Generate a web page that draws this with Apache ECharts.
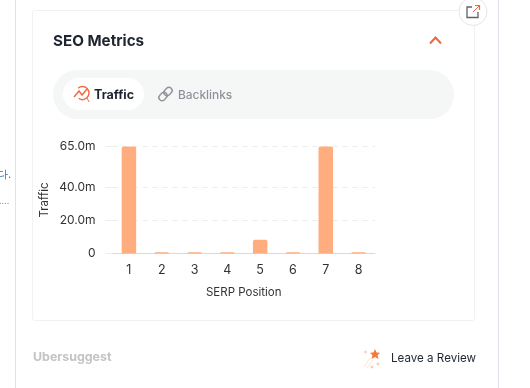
<!DOCTYPE html>
<html><head><meta charset="utf-8">
<style>html,body{margin:0;padding:0;background:#fff}#c{width:530px;height:388px}</style>
<script src="https://cdn.jsdelivr.net/npm/echarts@6/dist/echarts.min.js"></script>
</head><body><div id="c"></div>
<script>
const categories = ['1','2','3','4','5','6','7','8'];
const traffic = [65, 0.7, 0.8, 0.7, 8.3, 0.7, 65, 0.7];
const yTicks = [0, 20, 40, 65];
const yTickLabels = {0:'0',20:'20.0m',40:'40.0m',65:'65.0m'};
const FONT = 'Inter, "Noto Sans", sans-serif';
const chart = echarts.init(document.getElementById('c'), null, {renderer:'canvas'});
const line = (x1,y1,x2,y2,c)=>({type:'line',silent:true,shape:{x1,y1,x2,y2},style:{stroke:c,lineWidth:1}});
const txt = (x,y,t,size,fill,weight)=>({type:'text',silent:true,x,y,style:{text:t,fontFamily:FONT,fontSize:size,fontWeight:weight||400,fill,textVerticalAlign:'middle'}});
const spark = (cx,cy,c)=>({type:'polygon',silent:true,shape:{points:[[cx,cy-2],[cx+.6,cy-.6],[cx+2,cy],[cx+.6,cy+.6],[cx,cy+2],[cx-.6,cy+.6],[cx-2,cy],[cx-.6,cy-.6]]},style:{fill:c}});
chart.setOption({
  animation:false,
  backgroundColor:'#fff',
  grid:{left:112.5,right:155,top:146.5,bottom:134.5,containLabel:false},
  xAxis:{type:'category',data:categories,name:'SERP Position',nameLocation:'middle',nameGap:33,
    nameTextStyle:{color:'#333',fontSize:11.5,fontFamily:FONT},
    axisTick:{show:false},axisLine:{lineStyle:{color:'#d9d9d9'}},
    axisLabel:{color:'#333',fontSize:12.5,fontFamily:FONT,margin:10}},
  yAxis:{type:'value',min:0,max:65,name:'Traffic',nameLocation:'middle',nameGap:62,nameRotate:90,
    nameTextStyle:{color:'#333',fontSize:11.5,fontFamily:FONT},
    axisLine:{show:false},
    axisTick:{show:true,length:7,customValues:yTicks,lineStyle:{color:'#eeeeee'}},
    axisLabel:{color:'#333',fontSize:12,fontFamily:FONT,margin:17,customValues:yTicks,formatter:v=>yTickLabels[v]},
    splitLine:{lineStyle:{color:'#ececec',type:[5,5]}}},
  series:[{type:'bar',data:traffic,barWidth:14.5,itemStyle:{color:'#FFAD7E',borderRadius:[2,2,0,0]}}],
  graphic:[
    line(15.5,0,15.5,388,'#dfe2e8'),line(498.5,0,498.5,388,'#dfe2e8'),
    {type:'rect',silent:true,shape:{x:32.5,y:10.5,width:442,height:310,r:2},style:{fill:'none',stroke:'#f1f2f4',lineWidth:1}},
    txt(53,41,'SEO Metrics',15.2,'#1e2430',700),
    {type:'polyline',silent:true,shape:{points:[[430,43.5],[435.5,37.5],[441,43.5]]},style:{fill:'none',stroke:'#f0673a',lineWidth:2}},
    {type:'rect',silent:true,shape:{x:53,y:70,width:401,height:49,r:24.5},style:{fill:'#f5f7f7'}},
    {type:'rect',silent:true,shape:{x:63,y:78,width:81,height:32,r:16},style:{fill:'#fff'}},
    {type:'arc',silent:true,shape:{cx:82.5,cy:93,r:6.5,startAngle:-2.3,endAngle:2.2},style:{fill:'none',stroke:'#ee6a42',lineWidth:1.4}},
    {type:'polyline',silent:true,shape:{points:[[74,97],[79,91],[82,95],[87,89]]},style:{fill:'none',stroke:'#ee6a42',lineWidth:1.4}},
    line(87,98,89,102,'#ee6a42'),
    txt(94,95,'Traffic',12.5,'#1e2430',700),
    {type:'group',silent:true,x:165.5,y:94,rotation:Math.PI/4,children:[
      {type:'rect',silent:true,shape:{x:-8,y:-3.2,width:9,height:6.4,r:3.2},style:{fill:'none',stroke:'#8f9399',lineWidth:1.4}},
      {type:'rect',silent:true,shape:{x:-1,y:-3.2,width:9,height:6.4,r:3.2},style:{fill:'none',stroke:'#8f9399',lineWidth:1.4}}]},
    txt(178,95,'Backlinks',11.9,'#8f9399',500),
    {type:'circle',silent:true,shape:{cx:473,cy:11.5,r:14},style:{fill:'#fff',stroke:'#e6e6e6',lineWidth:1}},
    {type:'polyline',silent:true,shape:{points:[[472,7],[467,7],[467,17.5],[478,17.5],[478,12]]},style:{fill:'none',stroke:'#5f6368',lineWidth:1.3}},
    line(473,12,479,6,'#f0673a'),
    {type:'polyline',silent:true,shape:{points:[[475,5.5],[479.5,5.5],[479.5,10]]},style:{fill:'none',stroke:'#f0673a',lineWidth:1.2}},
    txt(33,357,'Ubersuggest',12.4,'#c4c4c4',700),
    {type:'polygon',silent:true,shape:{points:[[375,349],[376.5,352.5],[380,352.8],[377.5,355.3],[378.5,359],[375,357],[371.5,359],[372.5,355.3],[370,352.8],[373.5,352.5]]},style:{fill:'#f47a38'}},
    line(364,367,370,358,'#fde3d6'),line(367,368,373,360,'#fde3d6'),
    spark(365.5,352,'#f9c3a8'),spark(378,364,'#f9b595'),spark(372,367,'#f9b595'),
    txt(391,358.5,'Leave a Review',11.6,'#1f2533',400),
    txt(-3,175,'다.',11,'#2b6cb0',400),
    txt(-1,201,'....',9,'#b58a4a',400)
  ]
});
</script></body></html>
